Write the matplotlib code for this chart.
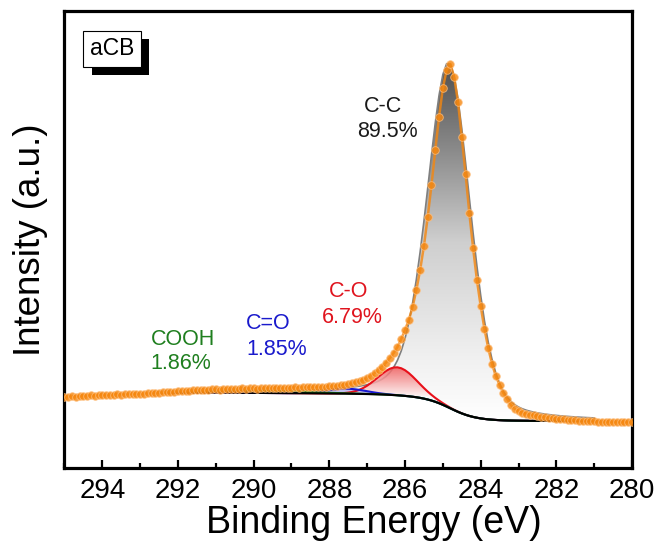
import numpy as np
import matplotlib
matplotlib.use("Agg")
import matplotlib.pyplot as plt
from matplotlib.colors import LinearSegmentedColormap
from matplotlib.ticker import MultipleLocator
import matplotlib.patheffects as pe

plt.rcParams['font.family'] = ['Liberation Sans', 'DejaVu Sans']

# measured spectrum, 295.0 -> 280.0 eV in 0.1 eV steps
be = np.round(np.arange(295.0, 279.95, -0.1), 1)
intensity = np.array([
    69.5,
    69.5, 70, 69.5, 70, 70.5, 70.5, 71, 70.5, 71,
    71.5, 71, 71.5, 71.5, 72, 71.5, 72, 72, 72.5, 72,
    72.5, 72.5, 73, 73, 73.5, 73.5, 74, 74, 74.5, 74.5,
    75, 75, 75.5, 75.5, 76, 76, 76.5, 76, 76.5, 77,
    77, 76.5, 77, 77.5, 77.5, 77, 77.5, 78, 77.5, 78,
    78, 77.5, 78, 78.5, 78, 78, 78.5, 78.5, 78, 78.5,
    78.5, 79, 78.5, 79, 79, 79, 79.5, 79, 79.5, 79.5,
    80, 80, 80.5, 81, 81.5, 82, 83, 84, 85, 86.5,
    88.5, 90.5, 93, 96, 99.5, 103.5, 108, 113, 119, 127,
    136, 146, 159, 176, 196, 220, 249, 281, 316, 349,
    378, 396, 402, 389, 364, 329, 292, 253, 218, 186,
    160, 137, 118, 102, 90, 81, 73, 67, 61, 57,
    55, 53.5, 52.5, 51.5, 51, 50, 49.5, 49, 48.5, 48,
    47.5, 47, 47, 46.5, 46, 46, 45.5, 45.5, 45, 45,
    45, 44.5, 44.5, 44.5, 44.5, 44, 44.5, 44, 44, 44,
    44,
])

# fit window (Shirley background)
bg_hi = 292.5
bg_lo = 281.0

# fitted components
peak_names = ['C-C', 'C-O', 'C=O', 'COOH']
peak_pct = ['89.5%', '6.79%', '1.85%', '1.86%']
peak_center = [284.84, 286.21, 287.54, 290.0]
peak_fwhm = [1.35, 1.2, 1.2, 3.0]
peak_height = [345, 28, 5, 2.5]
peak_eta = [0.3, 0.0, 0.0, 0.0]


def shirley(x, y, n_iter=60):
    # x descending
    xa, ya = x[::-1], y[::-1]
    i_lo, i_hi = ya[0], ya[-1]
    bg = np.full_like(ya, i_lo)
    for _ in range(n_iter):
        d = ya - bg
        cum = np.concatenate([[0], np.cumsum(0.5 * (d[1:] + d[:-1]) * np.diff(xa))])
        bg = i_lo + (i_hi - i_lo) * cum / cum[-1]
    return bg[::-1]


def gl(x, c, w, h, eta):
    u = (x - c) / w
    return h * ((1 - eta) * np.exp(-4 * np.log(2) * u**2) + eta / (1 + 4 * u**2))


def grad_fill(ax, x, top, bottom, stops, y0, y1, z, alpha=1.0):
    poly = ax.fill_between(x, bottom, top, facecolor='none', edgecolor='none', zorder=z)
    cmap = LinearSegmentedColormap.from_list('g', stops)
    img = ax.imshow(np.linspace(0, 1, 256).reshape(-1, 1), cmap=cmap, aspect='auto',
                    extent=[x.min(), x.max(), y0, y1], origin='lower', zorder=z,
                    alpha=alpha, interpolation='bilinear')
    img.set_clip_path(poly.get_paths()[0], transform=ax.transData)


fig = plt.figure(figsize=(6.6, 5.54), dpi=100)
ax = fig.add_axes([0.0977, 0.1552, 0.8599, 0.8249])

m = (be <= bg_hi + 1e-6) & (be >= bg_lo - 1e-6)
xf = be[m]
bg = shirley(xf, intensity[m])

comps = [gl(xf, c, w, h, e) for c, w, h, e in zip(peak_center, peak_fwhm, peak_height, peak_eta)]

# C-C
cc = comps[0] + bg
grad_fill(ax, xf, cc, bg,
          [(0, '#ffffff'), (0.18, '#f0f0f0'), (0.5, '#cfcfcf'), (0.76, '#8a8a8a'), (1, '#4f4f4f')],
          bg.min(), cc.max(), 1)
ax.plot(xf, cc, color='#7f7f7f', lw=1.2, zorder=2)

# C-O
co = comps[1] + bg
grad_fill(ax, xf, co, bg, [(0, '#fdf0f0'), (1, '#f05a5a')], 70, co.max(), 3, alpha=0.85)
ax.plot(xf, co, color='#e8101a', lw=1.5, zorder=4)

# C=O
cdo = comps[2] + bg
ax.fill_between(xf, bg, cdo, color='#a9a9ee', alpha=0.7, lw=0, zorder=3)
ax.plot(xf, cdo, color='#1a1ad0', lw=1.5, zorder=4)

# COOH
cooh = comps[3] + bg
ax.fill_between(xf, bg, cooh, color='#8cc88c', alpha=0.7, lw=0, zorder=3)
ax.plot(xf, cooh, color='#1a7f1a', lw=1.5, zorder=4)

ax.plot(xf, bg, color='black', lw=1.5, zorder=5)

ax.plot(be, intensity, '-o', color='#f5870f', lw=1.8, ms=5.5, mfc='#f5870f',
        mec='#ffc080', mew=0.6, alpha=0.8, zorder=6)

# labels
lab_colors = ['#1a1a1a', '#e0141e', '#1a1acc', '#1f7f1f']
lab_x = [(287.08, 287.27), (288.01, 288.2), (290.2, 290.18), (292.72, 292.72)]
lab_y = [(360, 334.5), (175, 148.5), (143, 116.5), (127, 102.5)]
for n, p, c, (x1, x2), (y1, y2) in zip(peak_names, peak_pct, lab_colors, lab_x, lab_y):
    ax.text(x1, y1, n, color=c, fontsize=15.5, ha='left', va='center')
    ax.text(x2, y2, p, color=c, fontsize=15.5, ha='left', va='center')

t = ax.text(0.0837, 0.9175, 'aCB', transform=ax.transAxes, fontsize=16.5,
            ha='center', va='center', zorder=10,
            bbox=dict(boxstyle='square,pad=0.28', facecolor='white', edgecolor='black', lw=0.8))
t.get_bbox_patch().set_path_effects([pe.withSimplePatchShadow(offset=(6, -6), shadow_rgbFace='black', alpha=1.0)])

ax.set_xlim(295, 280)
ax.set_ylim(-2, 455)
ax.xaxis.set_major_locator(MultipleLocator(2))
ax.xaxis.set_minor_locator(MultipleLocator(1))
ax.tick_params(axis='x', which='both', direction='in', top=False, labelsize=20, pad=7.5)
ax.tick_params(axis='x', which='major', length=6, width=1.6)
ax.tick_params(axis='x', which='minor', length=3.5, width=1.6)
ax.set_yticks([])
for s in ax.spines.values():
    s.set_linewidth(2.3)

ax.set_xlabel('Binding Energy (eV)', fontsize=27)
ax.xaxis.set_label_coords(0.546, -0.082)
ax.set_ylabel('Intensity (a.u.)', fontsize=26.5, labelpad=12)

fig.savefig('out.png', dpi=100)
